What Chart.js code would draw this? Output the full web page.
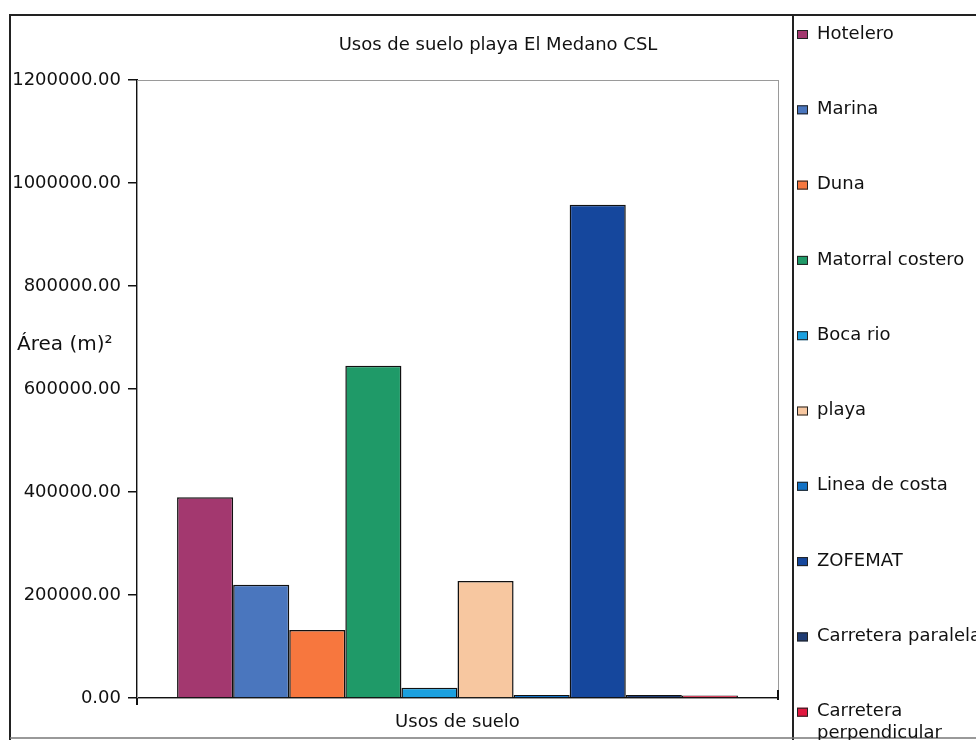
<!DOCTYPE html>
<html>
<head>
<meta charset="utf-8">
<script src="https://cdn.jsdelivr.net/npm/chart.js@4.4.1/dist/chart.umd.min.js"></script>
<style>
  html, body { margin: 0; padding: 0; background: #ffffff; }
  #wrap { width: 976px; height: 740px; }
</style>
</head>
<body>
<div id="wrap"><canvas id="c" width="976" height="740"></canvas></div>
<script>
// Land-use areas (m²) for El Medano beach, Cabo San Lucas
const categories = [''];
const seriesNames = [
  'Hotelero', 'Marina', 'Duna', 'Matorral costero', 'Boca rio',
  'playa', 'Linea de costa', 'ZOFEMAT', 'Carretera paralela', 'Carretera perpendicular'
];
const seriesValues = [390000, 220000, 132000, 645000, 20000, 227000, 6000, 958000, 6000, 5000];
const seriesColors = [
  '#A3386F', '#4A76BE', '#F7773E', '#1F9A68', '#1BA0DF',
  '#F7C7A0', '#1272C6', '#15479D', '#1F3C74', '#E0183F'
];
const yTicks = [0, 200000, 400000, 600000, 800000, 1000000, 1200000];

const FONT = 'DejaVu Sans';
const INK = '#111';

// Frame, plot border, headings and the side legend
const decor = {
  id: 'decor',
  beforeDatasetsDraw(chart) {
    const { ctx, chartArea: a } = chart;
    ctx.save();
    ctx.strokeStyle = '#9a9a9a';
    ctx.lineWidth = 1;
    ctx.strokeRect(a.left + 0.5, a.top + 0.5, a.right - a.left, a.bottom - a.top);
    ctx.restore();
  },
  afterDraw(chart) {
    const { ctx, chartArea: a } = chart;
    ctx.save();
    // outer frame and legend separator
    ctx.strokeStyle = '#222';
    ctx.lineWidth = 2;
    ctx.beginPath();
    ctx.moveTo(10, 740); ctx.lineTo(10, 15); ctx.lineTo(976, 15);
    ctx.moveTo(793, 15); ctx.lineTo(793, 740);
    ctx.stroke();
    ctx.strokeStyle = '#777';
    ctx.lineWidth = 1.5;
    ctx.beginPath();
    ctx.moveTo(10, 738); ctx.lineTo(976, 738);
    ctx.stroke();

    // end ticks of the category axis
    ctx.strokeStyle = INK;
    ctx.lineWidth = 2;
    ctx.beginPath();
    ctx.moveTo(a.left, a.bottom); ctx.lineTo(a.left, a.bottom + 7);
    ctx.moveTo(a.right, a.bottom - 8); ctx.lineTo(a.right, a.bottom + 2);
    ctx.stroke();

    // title
    ctx.fillStyle = INK;
    ctx.textBaseline = 'middle';
    ctx.textAlign = 'center';
    ctx.font = '18px "' + FONT + '"';
    ctx.fillText('Usos de suelo playa El Medano CSL', 498, 45);

    // value-axis heading
    ctx.textAlign = 'left';
    ctx.font = '20px "' + FONT + '"';
    ctx.fillText('Área (m)²', 17, 345);

    // legend
    ctx.font = '18px "' + FONT + '"';
    chart.data.datasets.forEach((ds, i) => {
      const y = 35 + i * 75.3;
      ctx.fillStyle = ds.backgroundColor;
      ctx.fillRect(797, y - 5, 11, 9);
      ctx.strokeStyle = '#222';
      ctx.lineWidth = 1;
      ctx.strokeRect(797.5, y - 4.5, 10, 8);
      ctx.fillStyle = INK;
      const words = ds.label.split(' ');
      let lines = [ds.label];
      if (ctx.measureText(ds.label).width > 190 && words.length > 1) {
        lines = [words.slice(0, -1).join(' '), words[words.length - 1]];
      }
      lines.forEach((t, k) => ctx.fillText(t, 817, y - 1 + k * 22));
    });
    ctx.restore();
  }
};

const datasets = seriesNames.map((name, i) => ({
  label: name,
  data: [seriesValues[i]],
  backgroundColor: seriesColors[i],
  borderColor: INK,
  borderWidth: 1.5,
  borderSkipped: 'bottom',
  categoryPercentage: 0.875,
  barPercentage: 1.0
}));

new Chart(document.getElementById('c'), {
  type: 'bar',
  data: { labels: categories, datasets },
  options: {
    responsive: false,
    animation: false,
    devicePixelRatio: 1,
    layout: { padding: { left: 0, top: 80, right: 198, bottom: 0 } },
    plugins: {
      legend: { display: false },
      title: { display: false },
      tooltip: { enabled: false }
    },
    scales: {
      x: {
        offset: true,
        grid: { display: false },
        border: { display: true, color: INK, width: 2 },
        ticks: { display: false },
        title: {
          display: true,
          text: 'Usos de suelo',
          color: INK,
          font: { family: FONT, size: 18 },
          padding: { top: 0, bottom: 7 }
        },
        afterFit(scale) { scale.height = 42; }
      },
      y: {
        min: 0,
        max: 1200000,
        afterBuildTicks(scale) { scale.ticks = yTicks.map(v => ({ value: v })); },
        grid: {
          drawOnChartArea: false,
          drawTicks: true,
          tickLength: 9,
          color: INK,
          lineWidth: 1.5
        },
        border: { display: true, color: INK, width: 2 },
        ticks: {
          padding: 7,
          color: INK,
          font: { family: FONT, size: 18 },
          callback: v => Number(v).toFixed(2)
        },
        afterFit(scale) { scale.width = 137; }
      }
    }
  },
  plugins: [decor]
});
</script>
</body>
</html>
